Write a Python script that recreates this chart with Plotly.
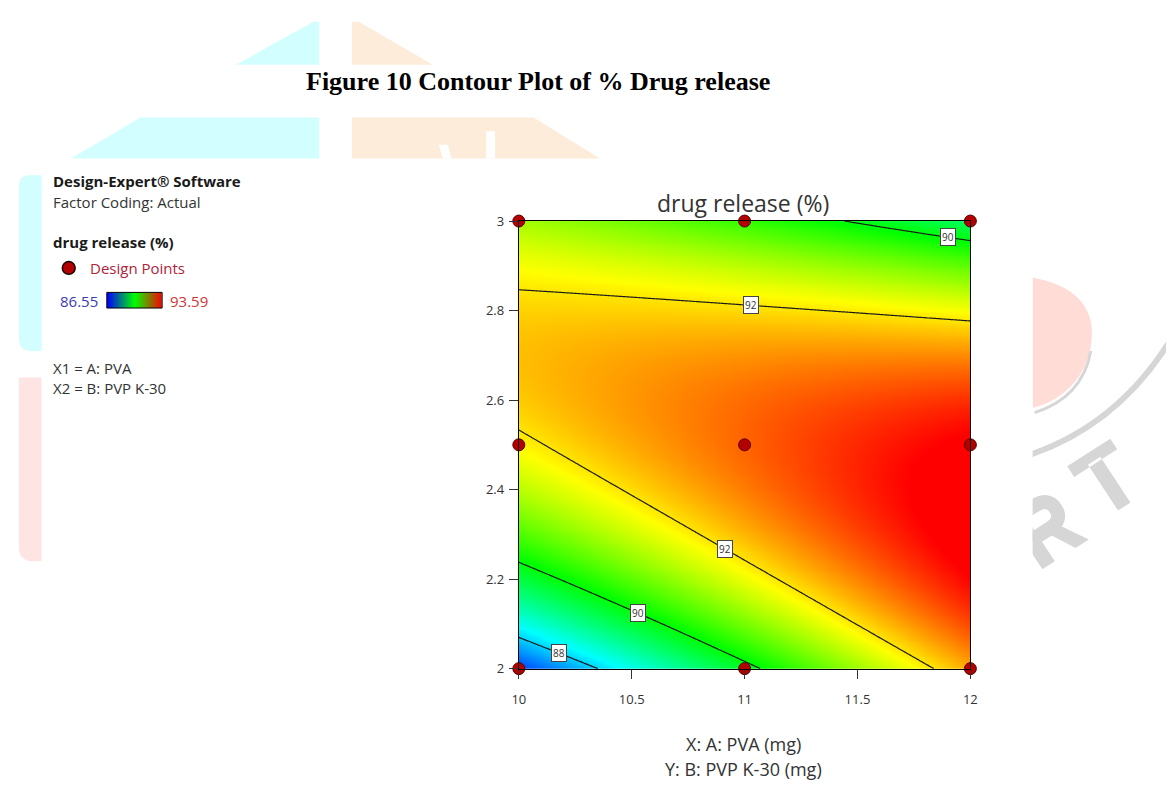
import numpy as np
import plotly.graph_objects as go

W, H = 1173, 791

# ---- data -------------------------------------------------------------
pva_levels = [10.0, 11.0, 12.0]   # A: PVA (mg)
pvp_levels = [2.0, 2.5, 3.0]      # B: PVP K-30 (mg)
# drug release (%) at the 3x3 factorial design points
# rows follow pvp_levels, columns follow pva_levels
drug_release = [
    [86.98, 89.84, 92.38],
    [91.86, 92.88, 93.71],
    [91.22, 90.41, 89.40],
]
release_min, release_max = 86.55, 93.59
contour_levels = [88, 90, 92]
# where each contour carries its value tag: (level, PVA, lower/upper branch)
label_spots = [(88, 10.18, "low"), (90, 10.53, "low"), (92, 10.915, "low"),
               (92, 11.03, "high"), (90, 11.90, "high")]
x_ticks = [10, 10.5, 11, 11.5, 12]
y_ticks = [2, 2.2, 2.4, 2.6, 2.8, 3]

# ---- quadratic response-surface model ---------------------------------
def coded(x, y):
    return x - 11.0, (y - 2.5) / 0.5

def terms(a, b):
    return np.stack([np.ones_like(a), a, b, a * b, a * a, b * b], axis=-1)

PX, PY = np.meshgrid(pva_levels, pvp_levels)
ca, cb = coded(PX.ravel(), PY.ravel())
coef, *_ = np.linalg.lstsq(terms(ca, cb), np.array(drug_release).ravel(), rcond=None)

xs = np.linspace(10, 12, 241)
ys = np.linspace(2, 3, 241)
GX, GY = np.meshgrid(xs, ys)
ga, gb = coded(GX, GY)
Z = terms(ga, gb) @ coef


def contour_y(level, x, branch):
    a = x - 11.0
    c0 = coef[0] + coef[1] * a + coef[4] * a * a - level
    c1 = coef[2] + coef[3] * a
    c2 = coef[5]
    r = np.sort(np.real(np.roots([c2, c1, c0])))
    b = r[0] if branch == "low" else r[-1]
    return 2.5 + 0.5 * b


surface_scale = [[0.0, "#0000ff"], [0.25, "#00ffff"], [0.5, "#00ff00"],
                 [0.75, "#ffff00"], [1.0, "#ff0000"]]
legend_scale = [[0.0, "#0000ff"], [0.5, "#00ff00"], [1.0, "#ff0000"]]

FONT = "Open Sans"
TXT = "#333333"

fig = go.Figure()
fig.add_trace(go.Heatmap(x=xs, y=ys, z=Z, colorscale=surface_scale,
                         zmin=release_min, zmax=release_max, zsmooth="best",
                         showscale=False, hoverinfo="skip"))
fig.add_trace(go.Contour(x=xs, y=ys, z=Z, autocontour=False,
                         contours=dict(start=min(contour_levels), end=max(contour_levels),
                                       size=contour_levels[1] - contour_levels[0],
                                       coloring="none"),
                         line=dict(color="#1c1c1c", width=1.2),
                         showscale=False, hoverinfo="skip"))
fig.add_trace(go.Scatter(x=PX.ravel(), y=PY.ravel(), mode="markers", cliponaxis=False,
                         marker=dict(size=12, color="#b30000",
                                     line=dict(color="#5a0000", width=1)),
                         showlegend=False, hoverinfo="skip"))

# small gradient key in the side panel
fig.add_trace(go.Heatmap(z=[np.linspace(release_min, release_max, 120)],
                         colorscale=legend_scale, zmin=release_min, zmax=release_max,
                         zsmooth="best", showscale=False, hoverinfo="skip",
                         xaxis="x2", yaxis="y2"))
# carrier for the watermark layer on the right
fig.add_trace(go.Scatter(x=[None], y=[None], xaxis="x3", yaxis="y3",
                         showlegend=False, hoverinfo="skip"))


def px(x):
    return x / W


def py(y):
    return 1 - y / H


axis_common = dict(showgrid=False, zeroline=False, showline=True, linecolor="#000000",
                   linewidth=1, mirror=True, ticks="outside", ticklen=9, tickwidth=1,
                   tickcolor="#333333", tickfont=dict(family=FONT, size=13, color=TXT))

fig.update_layout(
    width=W, height=H, margin=dict(l=0, r=0, t=0, b=0),
    paper_bgcolor="white", plot_bgcolor="white", showlegend=False,
    xaxis=dict(domain=[px(518), px(975)], range=[10, 12], tickvals=x_ticks,
               ticktext=[f"{v:g}" for v in x_ticks], ticklabelstandoff=10, **axis_common),
    yaxis=dict(domain=[py(675), py(217)], range=[2, 3], tickvals=y_ticks,
               ticktext=[f"{v:g}" for v in y_ticks], ticklabelstandoff=2, **axis_common),
    xaxis2=dict(domain=[px(101), px(157)], visible=False, anchor="y2"),
    yaxis2=dict(domain=[py(306), py(290)], visible=False, anchor="x2"),
    xaxis3=dict(domain=[px(1038), 1.0], range=[1038, 1173], visible=False, anchor="y3"),
    yaxis3=dict(domain=[0.0, 1.0], range=[791, 0], visible=False, anchor="x3"),
)

ann = []
# value tags on contour lines
for level, xv, branch in label_spots:
    ann.append(dict(x=xv, y=contour_y(level, xv, branch), xref="x", yref="y",
                    text=str(level), showarrow=False, bgcolor="white",
                    bordercolor="#444444", borderwidth=1, borderpad=1,
                    font=dict(family=FONT, size=10, color=TXT)))


def text(x, y, s, size=15, color=TXT, family=FONT, xanchor="left"):
    ann.append(dict(x=px(x), y=py(y), xref="paper", yref="paper", text=s,
                    showarrow=False, xanchor=xanchor, yanchor="middle",
                    font=dict(family=family, size=size, color=color)))


text(537, 74, "<b>Figure 10 Contour Plot of % Drug release</b>", size=26,
     color="#000000", family="Liberation Serif", xanchor="center")
text(745, 199, "drug release (%)", size=23, xanchor="center")
text(745, 752, "X: A: PVA (mg)", size=18, xanchor="center")
text(745, 778, "Y: B: PVP K-30 (mg)", size=18, xanchor="center")

text(45, 176, "<b>Design-Expert® Software</b>", color="#1a1a1a")
text(45, 197, "Factor Coding: Actual")
text(45, 238, "<b>drug release (%)</b>", color="#1a1a1a")
text(82, 265, "Design Points", color="#b0233a")
text(94, 299, f"{release_min:.2f}", color="#3b3bb5", xanchor="right")
text(163, 299, f"{release_max:.2f}", color="#d13434")
text(45, 367, "X1 = A: PVA")
text(45, 388, "X2 = B: PVP K-30")
fig.update_layout(annotations=ann)


# ---- decorative shapes ------------------------------------------------
def ppath(pts):
    return "M " + " L ".join(f"{px(x):.5f},{py(y):.5f}" for x, y in pts) + " Z"


shapes = []
CYAN, PEACH, PINK, GREY = "#d3feff", "#fdecd9", "#ffe4e4", "#d6d6d6"
for pts, col in [
    ([(232, 57), (310, 13), (316, 13), (316, 57)], CYAN),
    ([(349, 13), (356, 13), (431, 57), (349, 57)], PEACH),
    ([(65, 153), (135, 111), (316, 111), (316, 153)], CYAN),
    ([(349, 111), (533, 111), (600, 153), (349, 153)], PEACH),
    ([(485, 125), (494, 125), (494, 153), (485, 153)], "white"),
    ([(437, 139), (446, 139), (450, 153), (441, 153)], "white"),
]:
    shapes.append(dict(type="path", path=ppath(pts), xref="paper", yref="paper",
                       fillcolor=col, line=dict(width=0), layer="below"))

# rounded side bands
cyan_band = (f"M {px(35)},{py(170)} L {px(22)},{py(170)} Q {px(12)},{py(170)} {px(12)},{py(182)} "
             f"L {px(12)},{py(336)} Q {px(12)},{py(350)} {px(24)},{py(350)} L {px(35)},{py(350)} Z")
pink_band = (f"M {px(35)},{py(377)} L {px(12)},{py(377)} L {px(12)},{py(550)} "
             f"Q {px(12)},{py(565)} {px(26)},{py(565)} L {px(35)},{py(565)} Z")
for pth, col in [(cyan_band, CYAN), (pink_band, PINK)]:
    shapes.append(dict(type="path", path=pth, xref="paper", yref="paper",
                       fillcolor=col, line=dict(width=0), layer="below"))

# right-hand emblem (clipped to its own strip)
def rpath(pts, close=True):
    s = "M " + " L ".join(f"{x:.1f},{y:.1f}" for x, y in pts)
    return s + (" Z" if close else "")


ang = np.deg2rad(33)


def rot(origin, pts):
    ox, oy = origin
    return [(ox + u * np.cos(ang) + v * np.sin(ang), oy - u * np.sin(ang) + v * np.cos(ang))
            for u, v in pts]


right = dict(xref="x3", yref="y3", layer="below")
shapes.append(dict(type="path", path="M 1038,275 C 1080,282 1100,305 1098,335 "
                   "C 1096,372 1072,400 1038,408 Z", fillcolor="#ffdcd5",
                   line=dict(width=0), **right))
shapes.append(dict(type="path", path="M 1097,350 Q 1088,398 1040,413",
                   line=dict(color=GREY, width=3), **right))
shapes.append(dict(type="path", path="M 1036,456 Q 1125,425 1178,338",
                   line=dict(color=GREY, width=6), **right))

t_origin = (1073, 468)
t_poly = rpath(rot(t_origin, [(0, 0), (52, 0), (52, 13), (0, 13)])) + " " + \
    rpath(rot(t_origin, [(18.5, 10), (33.5, 10), (33.5, 66), (18.5, 66)]))
shapes.append(dict(type="path", path=t_poly, fillcolor=GREY, line=dict(width=0), **right))

r_origin = (1012, 518)
r_body = rpath(rot(r_origin, [(0, 0), (15, 0), (15, 66), (0, 66)])) + " " + \
    rpath(rot(r_origin, [(22, 34), (37, 34), (56, 66), (40, 66)]))
shapes.append(dict(type="path", path=r_body, fillcolor=GREY, line=dict(width=0), **right))
bowl = rot(r_origin, [(7, 7), (28, 7), (45, 7), (45, 21), (45, 35), (28, 35), (7, 35)])
bowl_path = (f"M {bowl[0][0]:.1f},{bowl[0][1]:.1f} L {bowl[1][0]:.1f},{bowl[1][1]:.1f} "
             f"Q {bowl[2][0]:.1f},{bowl[2][1]:.1f} {bowl[3][0]:.1f},{bowl[3][1]:.1f} "
             f"Q {bowl[4][0]:.1f},{bowl[4][1]:.1f} {bowl[5][0]:.1f},{bowl[5][1]:.1f} "
             f"L {bowl[6][0]:.1f},{bowl[6][1]:.1f}")
shapes.append(dict(type="path", path=bowl_path, line=dict(color=GREY, width=14), **right))

# key frame and design-point swatch
shapes.append(dict(type="rect", xref="paper", yref="paper", x0=px(101), x1=px(157),
                   y0=py(306), y1=py(290), line=dict(color="#000000", width=1)))
shapes.append(dict(type="circle", xref="paper", yref="paper", x0=px(56), x1=px(69),
                   y0=py(271.5), y1=py(258.5), fillcolor="#b30000",
                   line=dict(color="#1a0000", width=1.5)))
fig.update_layout(shapes=shapes)

fig.write_html("out.html")
